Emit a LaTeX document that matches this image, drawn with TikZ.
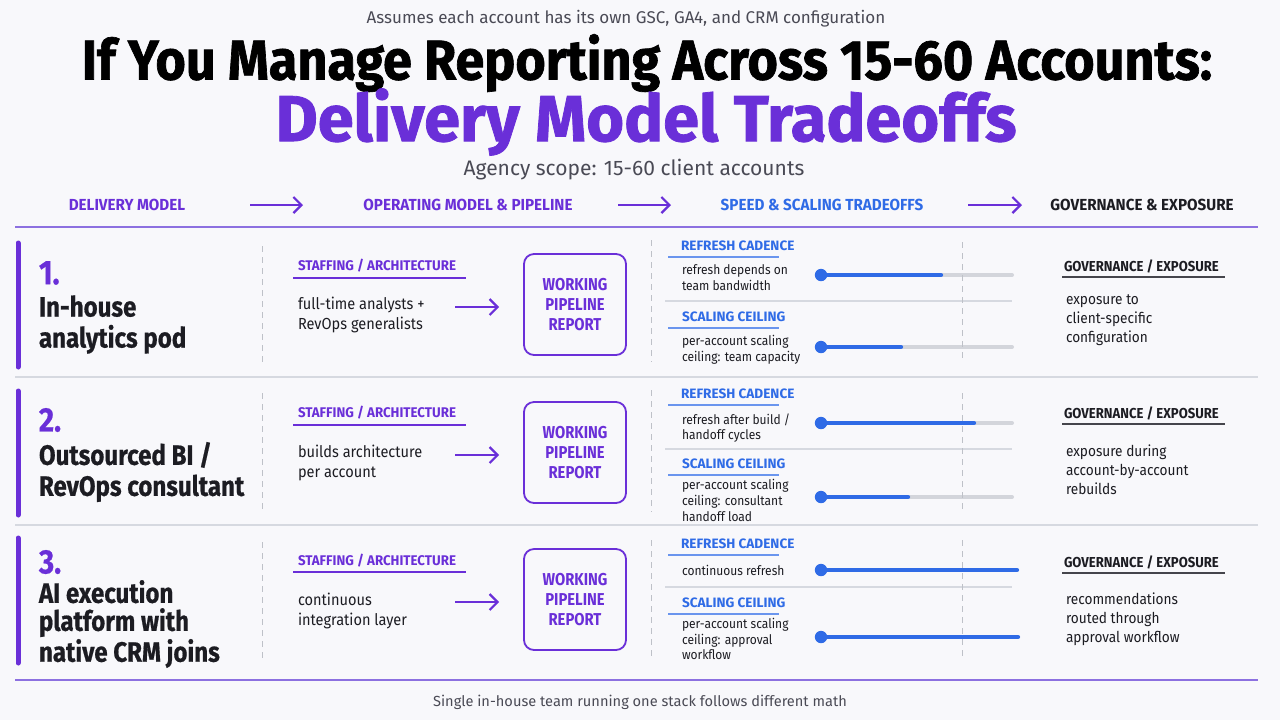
\documentclass[tikz,border=0pt]{standalone}
\usepackage{fontspec}
\setmainfont{Fira Sans}[FakeStretch=0.86]
\newfontfamily\fA{Fira Sans}[FakeStretch=1.0]
\newfontfamily\fB{Fira Sans}[FakeStretch=0.95]
\newfontfamily\fC{Fira Sans}[FakeStretch=0.91]
\newfontfamily\fT{Fira Sans}[FakeStretch=0.93, BoldFeatures={FakeBold=1.2}]
\newfontfamily\fP{Fira Sans}[FakeStretch=1.0, BoldFeatures={FakeBold=1.2}]
\newfontfamily\fR{Fira Sans}[FakeStretch=0.86, BoldFeatures={FakeBold=0.6}]
\usetikzlibrary{arrows.meta}
\definecolor{bg}{HTML}{F8F8FB}
\definecolor{pur}{HTML}{6A2FD8}
\definecolor{pline}{HTML}{8C70E0}
\definecolor{blu}{HTML}{2F6BE6}
\definecolor{bline}{HTML}{6A95EE}
\definecolor{txt}{HTML}{1C1C22}
\definecolor{gry}{HTML}{4A4A55}
\definecolor{trk}{HTML}{D3D5DB}
\definecolor{sepc}{HTML}{D6D9E0}
\definecolor{dashc}{HTML}{BEC1C8}
\definecolor{gline}{HTML}{45454C}
\newcommand\fs[2]{\fontsize{#1}{#2}\selectfont}
\begin{document}
\begin{tikzpicture}[x=0.5pt,y=-0.5pt,
  lbl/.style={inner sep=0pt, outer sep=0pt, anchor=west, align=left},
  hdr/.style={inner sep=0pt, font=\fB\bfseries\fs{8}{10}},
  harr/.style={-{Straight Barb[length=4pt,width=8pt]}, line width=1.1pt, draw=pur},
  num/.style={lbl, font=\fR\bfseries\fs{17}{20}, text=pur},
  rtitle/.style={lbl, font=\fR\bfseries\fs{14}{15.5}, text=txt},
  bar/.style={line width=2.5pt, draw=pur, line cap=round},
  vdash/.style={dash pattern=on 3pt off 2.5pt, draw=dashc, line width=0.5pt},
  rowsep/.style={draw=sepc, line width=1pt},
  sub/.style={lbl, font=\fB\bfseries\fs{7}{8}, text=pur},
  subline/.style={draw=pur, line width=0.8pt},
  body/.style={lbl, font=\fC\fs{8}{10}, text=txt},
  wbox/.style={draw=pur, line width=0.9pt, rounded corners=5pt, minimum width=51pt, minimum height=50.5pt, align=center, font=\bfseries\fs{8.6}{10}, text=pur, inner sep=0pt},
  bsub/.style={lbl, font=\fA\bfseries\fs{6.8}{8}, text=blu},
  bsubline/.style={draw=bline, line width=0.6pt},
  sbody/.style={lbl, font=\fC\fs{6.6}{7.9}, text=txt},
  minisep/.style={draw=sepc, line width=0.6pt},
  gsub/.style={lbl, font=\fC\bfseries\fs{7.2}{8}, text=txt},
  gsubline/.style={draw=gline, line width=0.8pt},
  gbody/.style={lbl, font=\fC\fs{7.5}{9.5}, text=txt},
  track/.style={line width=2pt, draw=trk, line cap=round},
  fillbar/.style={line width=2.1pt, draw=blu, line cap=round},
  knob/.style={circle, fill=blu, minimum size=6.2pt, inner sep=0pt}
]
\fill[bg] (0,0) rectangle (1280,720);
\useasboundingbox (0,0) rectangle (1280,720);

% ---- titles
\node[inner sep=0pt, font=\fA\fs{8.5}{10}, text=gry] (assume) at (626,19) {Assumes each account has its own GSC, GA4, and CRM configuration};
\node[inner sep=0pt, font=\fT\bfseries\fs{28}{30}, text=black] (title1) at (647,63) {If You Manage Reporting Across 15-60 Accounts:};
\node[inner sep=0pt, font=\fP\bfseries\fs{32.5}{34}, text=pur] (title2) at (646,122) {Delivery Model Tradeoffs};
\node[inner sep=0pt, font=\fA\fs{10.5}{12}, text=gry] (scope) at (634,169.5) {Agency scope: 15-60 client accounts};

% ---- header
\node[hdr, text=pur] (h1) at (127,205) {DELIVERY MODEL};
\node[hdr, text=pur] (h2) at (468,205) {OPERATING MODEL \& PIPELINE};
\node[hdr, text=blu] (h3) at (822,205) {SPEED \& SCALING TRADEOFFS};
\node[hdr, text=txt] (h4) at (1142,205) {GOVERNANCE \& EXPOSURE};
\coordinate (ha1s) at (250,205); \coordinate (ha1e) at (303,205);
\coordinate (ha2s) at (618,205); \coordinate (ha2e) at (671,205);
\coordinate (ha3s) at (968,205); \coordinate (ha3e) at (1022,205);
\draw[harr] (ha1s) -- (ha1e);
\draw[harr] (ha2s) -- (ha2e);
\draw[harr] (ha3s) -- (ha3e);
\draw[draw=pline, line width=0.7pt] (15,227) -- (1258,227);

% ---- row separators
\draw[rowsep] (15,377) -- (1258,377);
\draw[rowsep] (15,525) -- (1258,525);
\draw[draw=pline, line width=0.8pt] (15,680) -- (1258,680);

% ================= ROW 1
\draw[bar] (18,243) -- (18,367);
\node[num] (n1) at (39,273) {1.};
\node[rtitle] (t1) at (39,324.5) {In-house\\analytics pod};
\draw[vdash] (262,246) -- (262,362);
\node[sub] (s1h) at (298,266) {STAFFING / ARCHITECTURE};
\draw[subline] (293,278) -- (466,278);
\node[body] (s1b) at (298,315) {full-time analysts +\\RevOps generalists};
\node[wbox] (b1) at (575,304.5) {WORKING\\PIPELINE\\REPORT};
\coordinate (a1s) at (455,307);
\draw[harr] (a1s) -- ([xshift=-12pt]b1.west|-a1s);
\draw[vdash] (651,240) -- (651,362);
\node[bsub] (r1h) at (681,246) {REFRESH CADENCE};
\draw[bsubline] (668,257) -- (779,257);
\node[sbody] (r1b) at (682,277.5) {refresh depends on\\team bandwidth};
\draw[track] (821,275) -- (1012,275);
\draw[fillbar] (821,275) -- (941,275);
\node[knob] (k1a) at (821,275) {};
\draw[minisep] (665,301) -- (1012,301);
\node[bsub] (c1h) at (682,317) {SCALING CEILING};
\draw[bsubline] (668,328) -- (779,328);
\node[sbody] (c1b) at (682,350) {per-account scaling\\ceiling: team capacity};
\draw[track] (821,347) -- (1012,347);
\draw[fillbar] (821,347) -- (901,347);
\node[knob] (k1b) at (821,347) {};
\draw[vdash] (962,242) -- (962,362);
\node[gsub] (g1h) at (1064,266) {GOVERNANCE / EXPOSURE};
\draw[gsubline] (1062,277) -- (1225,277);
\node[gbody] (g1b) at (1066,320) {exposure to\\client-specific\\configuration};

% ================= ROW 2
\draw[bar] (18,391) -- (18,515);
\node[num] (n2) at (39,420) {2.};
\node[rtitle] (t2) at (39,472) {Outsourced BI /\\RevOps consultant};
\draw[vdash] (262,393) -- (262,510);
\node[sub] (s2h) at (298,413) {STAFFING / ARCHITECTURE};
\draw[subline] (293,425) -- (466,425);
\node[body] (s2b) at (298,463) {builds architecture\\per account};
\node[wbox] (b2) at (575,452.5) {WORKING\\PIPELINE\\REPORT};
\coordinate (a2s) at (455,455);
\draw[harr] (a2s) -- ([xshift=-12pt]b2.west|-a2s);
\draw[vdash] (651,390) -- (651,512);
\node[bsub] (r2h) at (681,394) {REFRESH CADENCE};
\draw[bsubline] (668,405) -- (779,405);
\node[sbody] (r2b) at (682,428) {refresh after build /\\handoff cycles};
\draw[track] (821,423) -- (1012,423);
\draw[fillbar] (821,423) -- (974,423);
\node[knob] (k2a) at (821,423) {};
\draw[minisep] (665,449) -- (1012,449);
\node[bsub] (c2h) at (682,464) {SCALING CEILING};
\draw[bsubline] (668,475) -- (779,475);
\node[sbody] (c2b) at (682,500.5) {per-account scaling\\ceiling: consultant\\handoff load};
\draw[track] (821,497) -- (1012,497);
\draw[fillbar] (821,497) -- (908,497);
\node[knob] (k2b) at (821,497) {};
\draw[vdash] (962,393) -- (962,512);
\node[gsub] (g2h) at (1064,413) {GOVERNANCE / EXPOSURE};
\draw[gsubline] (1062,424) -- (1225,424);
\node[gbody] (g2b) at (1066,470) {exposure during\\account-by-account\\rebuilds};

% ================= ROW 3
\draw[bar] (18,538) -- (18,663);
\node[num] (n3) at (39,562) {3.};
\node[rtitle, font=\fR\bfseries\fs{14}{14}] (t3) at (39,624) {AI execution\\platform with\\native CRM joins};
\draw[vdash] (262,542) -- (262,662);
\node[sub] (s3h) at (298,561) {STAFFING / ARCHITECTURE};
\draw[subline] (293,572) -- (466,572);
\node[body] (s3b) at (298,611) {continuous\\integration layer};
\node[wbox] (b3) at (575,599.5) {WORKING\\PIPELINE\\REPORT};
\coordinate (a3s) at (455,602);
\draw[harr] (a3s) -- ([xshift=-12pt]b3.west|-a3s);
\draw[vdash] (651,540) -- (651,660);
\node[bsub] (r3h) at (681,544) {REFRESH CADENCE};
\draw[bsubline] (668,555) -- (779,555);
\node[sbody] (r3b) at (682,570) {continuous refresh};
\draw[fillbar] (821,570) -- (1017,570);
\node[knob] (k3a) at (821,570) {};
\draw[minisep] (665,587) -- (1012,587);
\node[bsub] (c3h) at (682,603) {SCALING CEILING};
\draw[bsubline] (668,614) -- (779,614);
\node[sbody] (c3b) at (682,639) {per-account scaling\\ceiling: approval\\workflow};
\draw[fillbar] (821,637) -- (1018,637);
\node[knob] (k3b) at (821,637) {};
\draw[vdash] (962,540) -- (962,660);
\node[gsub] (g3h) at (1064,562) {GOVERNANCE / EXPOSURE};
\draw[gsubline] (1062,573) -- (1225,573);
\node[gbody] (g3b) at (1066,619) {recommendations\\routed through\\approval workflow};

% ---- footer
\node[inner sep=0pt, font=\fA\fs{7.3}{9}, text=gry] (foot) at (640,702) {Single in-house team running one stack follows different math};
\end{tikzpicture}
\end{document}
